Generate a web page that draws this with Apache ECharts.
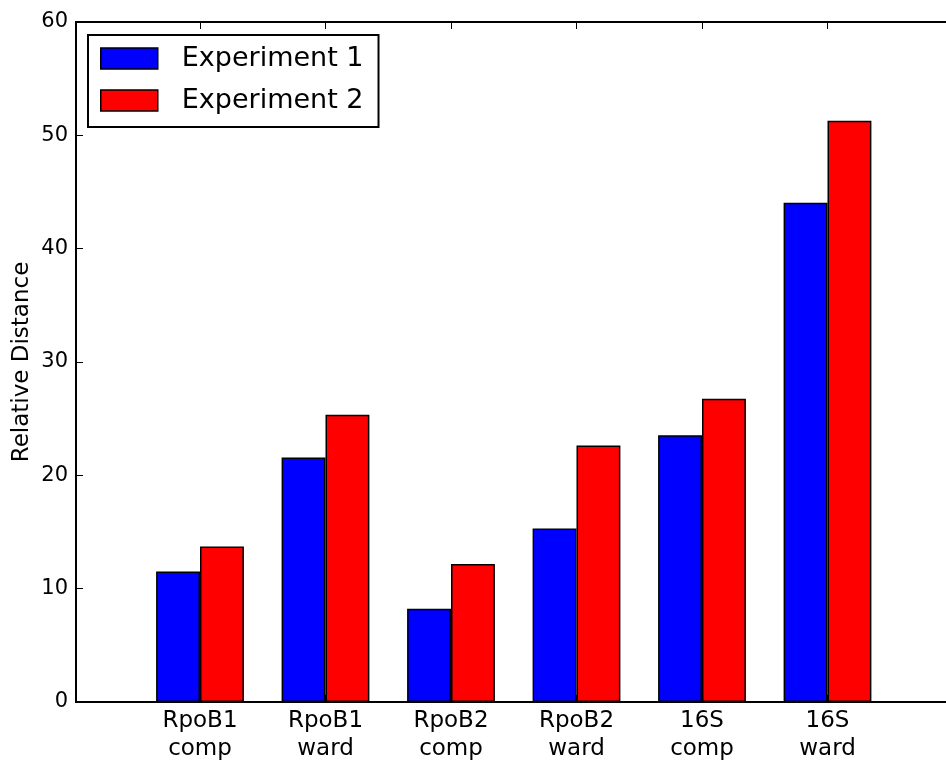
<!DOCTYPE html>
<html>
<head>
<meta charset="utf-8">
<script src="https://cdn.jsdelivr.net/npm/echarts@6/dist/echarts.min.js"></script>
<style>html,body{margin:0;padding:0;background:#fff}#c{width:946px;height:761px}</style>
</head>
<body>
<div id="c"></div>
<script>
const categories = ['RpoB1\ncomp', 'RpoB1\nward', 'RpoB2\ncomp', 'RpoB2\nward', '16S\ncomp', '16S\nward'];
const experiment1 = [11.52, 21.57, 8.23, 15.31, 23.54, 44.06];
const experiment2 = [13.72, 25.34, 12.17, 22.63, 26.75, 51.29];
const yTicks = [0, 10, 20, 30, 40, 50, 60];
const seriesNames = ['Experiment 1', 'Experiment 2'];

const FONT = 'DejaVu Sans';
const chart = echarts.init(document.getElementById('c'), null, {renderer: 'canvas'});
chart.setOption({
  animation: false,
  backgroundColor: '#fff',
  textStyle: {fontFamily: FONT},
  grid: [
    {left: 137.25, right: 55.75, top: 22, bottom: 59, outerBoundsMode: 'none', containLabel: false},
    {left: 76, right: -30, top: 22, bottom: 59, show: true, borderColor: '#000', borderWidth: 2, backgroundColor: 'transparent', outerBoundsMode: 'none', containLabel: false}
  ],
  legend: {
    left: 88, top: 35,
    orient: 'vertical',
    data: seriesNames,
    backgroundColor: '#fff',
    borderColor: '#000', borderWidth: 2, borderRadius: 0,
    padding: [10, 15, 13, 12],
    itemWidth: 57, itemHeight: 21, itemGap: 15,
    icon: 'rect',
    itemStyle: {borderColor: '#000', borderWidth: 1.5},
    textStyle: {fontFamily: FONT, fontSize: 27, lineHeight: 21, color: '#000', padding: [0, 0, 0, 19]}
  },
  xAxis: [
    {type: 'category', gridIndex: 0, data: categories, position: 'bottom',
     axisLine: {show: false},
     axisTick: {show: true, inside: true, length: 7, alignWithLabel: true, lineStyle: {color: '#000', width: 1}},
     axisLabel: {fontFamily: FONT, fontSize: 23, color: '#000', margin: 5, lineHeight: 28, interval: 0}},
    {type: 'category', gridIndex: 0, data: categories, position: 'top',
     axisLine: {show: false},
     axisTick: {show: true, inside: true, length: 7, alignWithLabel: true, lineStyle: {color: '#000', width: 1}},
     axisLabel: {show: false}},
    {type: 'value', gridIndex: 1, show: false, min: 0, max: 1}
  ],
  yAxis: [
    {type: 'value', gridIndex: 0, min: 0, max: 60, interval: 10, offset: 61.25,
     name: 'Relative Distance', nameLocation: 'middle', nameRotate: 90, nameGap: 42,
     nameMoveOverlap: false,
     nameTextStyle: {fontFamily: FONT, fontSize: 23, color: '#000'},
     axisLine: {show: false},
     axisTick: {show: true, inside: true, length: 7, lineStyle: {color: '#000', width: 1}},
     splitLine: {show: false},
     axisLabel: {fontFamily: FONT, fontSize: 21, color: '#000', margin: 8,
       formatter: v => yTicks.includes(v) ? String(v) : ''}},
    {type: 'value', gridIndex: 1, show: false, min: 0, max: 1}
  ],
  series: [
    {name: seriesNames[0], type: 'bar', xAxisIndex: 0, yAxisIndex: 0, data: experiment1,
     barWidth: 43.9, barGap: '0%',
     itemStyle: {color: '#0000ff', borderColor: '#000', borderWidth: 1.5}},
    {name: seriesNames[1], type: 'bar', xAxisIndex: 0, yAxisIndex: 0, data: experiment2,
     barWidth: 43.9, barGap: '0%',
     itemStyle: {color: '#ff0000', borderColor: '#000', borderWidth: 1.5}}
  ]
});
</script>
</body>
</html>
